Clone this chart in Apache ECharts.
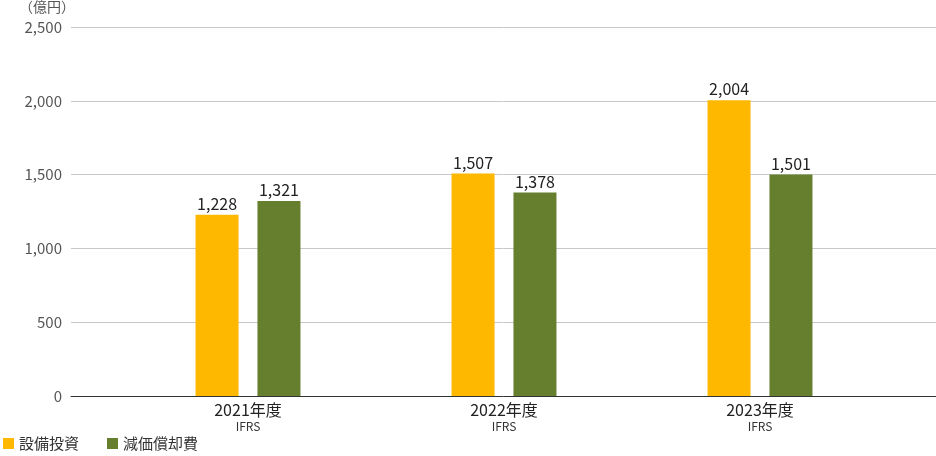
<!DOCTYPE html>
<html>
<head>
<meta charset="utf-8">
<script src="https://cdn.jsdelivr.net/npm/echarts@6/dist/echarts.min.js"></script>
<style>
  html, body { margin: 0; padding: 0; background: #fff; }
  #chart { width: 936px; height: 456px; }
</style>
</head>
<body>
<div id="chart"></div>
<script>
const years = ["2021年度", "2022年度", "2023年度"];
const subLabel = "IFRS";
const capex = [1228, 1507, 2004];
const depreciation = [1321, 1378, 1501];
const seriesNames = ["設備投資", "減価償却費"];
const colors = ["#FFB800", "#667F2E"];
const unitLabel = "（億円）";

const font = "'Noto Sans CJK JP', 'Noto Sans', sans-serif";

function withCommas(v) {
  return String(v).replace(/\B(?=(\d{3})+(?!\d))/g, ",");
}

const chart = echarts.init(document.getElementById("chart"));

chart.setOption({
  animation: false,
  textStyle: { fontFamily: font },
  color: colors,
  graphic: [
    {
      type: "text",
      left: 19,
      top: 0,
      style: { text: unitLabel, font: "14px " + font, fill: "#555" }
    }
  ],
  legend: {
    left: -2,
    bottom: 0,
    icon: "rect",
    itemWidth: 11,
    itemHeight: 11,
    itemGap: 28,
    textStyle: { fontSize: 15, color: "#333", fontFamily: font },
    data: seriesNames
  },
  grid: [
    { left: 71, right: 0, top: 27, bottom: 60 },
    { left: 120, right: 48, top: 27, bottom: 60 }
  ],
  xAxis: [
    {
      gridIndex: 0,
      type: "category",
      data: years,
      axisLine: { lineStyle: { color: "#333", width: 1 } },
      axisTick: { show: false },
      axisLabel: { show: false }
    },
    {
      gridIndex: 1,
      type: "category",
      data: years,
      axisLine: { show: false },
      axisTick: { show: false },
      axisLabel: {
        margin: 5,
        formatter: (v) => "{y|" + v + "}\n{s|" + subLabel + "}",
        rich: {
          y: { fontSize: 16, color: "#222", lineHeight: 18, fontFamily: font },
          s: { fontSize: 12, color: "#333", lineHeight: 15, fontFamily: font }
        }
      }
    }
  ],
  yAxis: [
    {
      gridIndex: 0,
      type: "value",
      min: 0,
      max: 2500,
      interval: 500,
      axisLine: { show: false },
      axisTick: { show: false },
      axisLabel: {
        margin: 9,
        fontSize: 15,
        color: "#555",
        formatter: withCommas
      },
      splitLine: { lineStyle: { color: "#c8c8c8" } }
    },
    {
      gridIndex: 1,
      type: "value",
      min: 0,
      max: 2500,
      interval: 500,
      show: false,
      splitLine: { show: false }
    }
  ],
  series: [
    {
      name: seriesNames[0],
      type: "bar",
      xAxisIndex: 1,
      yAxisIndex: 1,
      data: capex,
      barWidth: 43,
      barGap: "44%",
      label: {
        show: true,
        position: "top",
        distance: 3,
        fontSize: 16,
        color: "#222",
        formatter: (p) => withCommas(p.value)
      }
    },
    {
      name: seriesNames[1],
      type: "bar",
      xAxisIndex: 1,
      yAxisIndex: 1,
      data: depreciation,
      barWidth: 43,
      barGap: "44%",
      label: {
        show: true,
        position: "top",
        distance: 3,
        fontSize: 16,
        color: "#222",
        formatter: (p) => withCommas(p.value)
      }
    }
  ]
});
</script>
</body>
</html>
